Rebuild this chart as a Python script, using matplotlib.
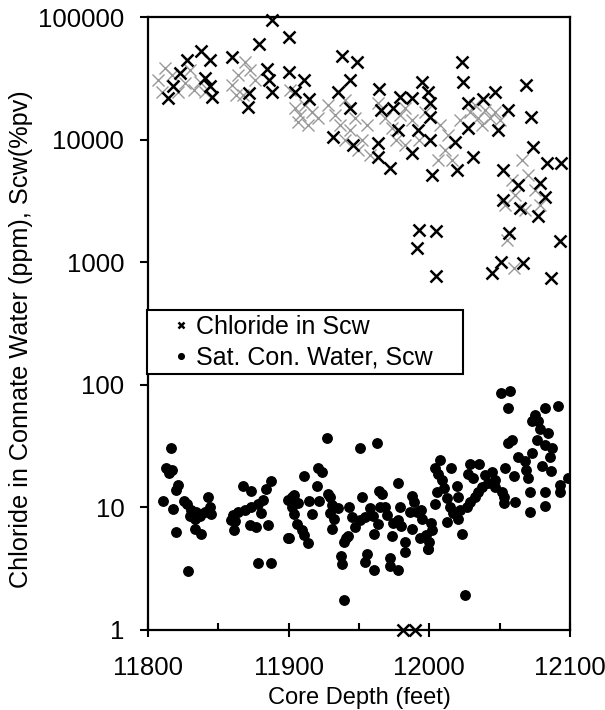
import matplotlib
matplotlib.use("Agg")
import matplotlib.pyplot as plt
from matplotlib.ticker import FixedLocator, FixedFormatter, NullLocator

plt.rcParams['font.family'] = ['Liberation Sans', 'DejaVu Sans']

# Chloride in Scw (solid markers)
chl_depth = [11888, 11900, 11879, 11860, 11838, 11828, 11844, 11823, 11818, 11814,
             11840.5, 11844, 11845.5, 11884.6, 11886, 11888, 11872, 11871, 11900,
             11938, 11948.5, 11911, 11943.6, 11904.5, 11914.4, 11935, 11964, 11994.7,
             11999, 11987.6, 11979, 12000.4, 11943.6, 11966, 11974, 11931.5, 11945.7,
             11963.5, 11963.5, 11972, 11977.7, 11992, 12000.4, 11987.6, 12000.4, 12001.8,
             11993, 12005, 11991, 12005, 12024, 12023, 12068.6, 12047, 12038, 12027.4,
             12056, 12072, 12027.4, 12048.7, 12018, 12031, 12019.6, 12052.3, 12073.6,
             12083.6, 12093.5, 12078.6, 12063, 12052.3, 12082, 12064.4, 12077, 12057,
             12092.8, 12051, 12044.5, 12066.5, 12086.4, 11981, 11990]
chl_ppm = [94500, 69000, 60300, 47200, 52800, 44600, 44600, 34900, 27400, 21800,
           31800, 27400, 22300, 37600, 30600, 24400, 24000, 18500, 35600,
           48100, 42900, 30600, 30600, 24400, 21400, 24400, 25900, 29500,
           24400, 21800, 22300, 19900, 18100, 17400, 18100, 10500, 9040,
           9380, 7210, 5870, 12000, 12000, 15300, 7780, 9930, 5140,
           1830, 1800, 1310, 772, 29500, 42900, 27900, 24400, 21400, 19900,
           17400, 15300, 12400, 12000, 9560, 7210, 5650, 5650, 8700,
           6440, 6440, 4430, 4260, 3220, 3400, 2770, 2380, 1730,
           1490, 1000, 816, 985, 743, 1.0, 1.0]

# Chloride in Scw (faint, poorly rendered markers in the dense clusters)
chl_faint_depth = [11807, 11812, 11817, 11821, 11826, 11830, 11833, 11837, 11810, 11840.5,
                   11860, 11864, 11867.5, 11872.5, 11876, 11869, 11862.5,
                   11901, 11904.5, 11908, 11911.5, 11916.5, 11921, 11914, 11906.6,
                   11928, 11933, 11936.5, 11940, 11947, 11943.6, 11949, 11952, 11955.6, 11940, 11958,
                   11963.5, 11968.4, 11973.4, 11979, 11982.6, 11987.6, 11976, 11982.6, 11993, 11997,
                   12007.5, 12013, 12011, 12016, 12006, 12021.7,
                   12029, 12034.5, 12039.5, 12043, 12046.6, 12050, 12037.4, 12032.4,
                   12066, 12070, 12061, 12075, 12053.7, 12068, 12078.6, 12058.7,
                   12055, 12060]
chl_faint_ppm = [30600, 38400, 33600, 24400, 29000, 37000, 25400, 29500, 24400, 24400,
                 27900, 33600, 23100, 37000, 30600, 42900, 23100,
                 25400, 18100, 15900, 19200, 16800, 15000, 13200, 13900,
                 19200, 15900, 13200, 21000, 15000, 12000, 8230, 9930, 13200, 9930, 7490,
                 19900, 15000, 12400, 15900, 18100, 14500, 9930, 9040, 9930, 16800,
                 13200, 10900, 8230, 6820, 6820, 14500,
                 16800, 15000, 17400, 15000, 16800, 14500, 13200, 19200,
                 6820, 5140, 3530, 3880, 2930, 2670, 2930, 4680,
                 1520, 897]

# Sat. Con. Water, Scw (%pv)
scw_depth = [11816.1, 11813, 11817, 11814.7, 11821.3, 11820.1, 11810.7, 11817.8, 11825.6, 11827.9,
             11830.8, 11829.6, 11834.3, 11836.7, 11840.3, 11842.6, 11843.8, 11844.6, 11833.2, 11820.1,
             11833.2, 11837.5, 11828.4, 11867.5, 11873.4, 11887.6, 11884.1, 11881.7, 11878.2, 11873.4,
             11868.7, 11864, 11860.4, 11859.2, 11862, 11880.5, 11885.3, 11877, 11872.3, 11861.1,
             11878.2, 11887.6, 11900.7, 11899.5,
             11927, 11950.7, 11963, 11921, 11923.9, 11911.1, 11919.9, 11902.1, 11904, 11899.7,
             11906.8, 11902.1, 11914.4, 11921.5, 11928.1, 11929.3, 11904, 11916.3, 11930.6, 11935.2,
             11929.3, 11932.4, 11905.7, 11909.2, 11911.1, 11913.5, 11900.2, 11931, 11942.9, 11944.8,
             11947.1, 11950.7, 11954.2, 11952.3, 11957.8, 11960.1, 11963.2, 11960.8, 11964.4, 11966.5,
             11964.9, 11969.6, 11968.4, 11977.5, 11979.1, 11974.3, 11977.9, 11979.8, 11973.6, 11982.6,
             11982.6, 11987.4, 11989.3, 11986.2, 11991, 11994, 11994.5, 11987.4, 11993.3, 11997.4,
             11998.8, 11940.5, 11942.4, 11939.5, 11937.2, 11938.1, 11955.4, 11954.2, 11960.8, 11972,
             11972, 11977.9, 11939.5,
             12050.9, 12057.3, 12055.6, 12091.2, 12082.6, 12075, 12073.1, 12077.4, 12078.6, 12084.1,
             12076.9, 12082.6, 12086.9, 12085.7, 12073.1, 12058.9, 12055.6, 12062.7, 12068, 12053.7,
             12060.3, 12068.4, 12070.3, 12080.2, 12086.4, 12098.7, 12092.8, 12092.8, 12082.6, 12071.5,
             12082.6, 12071.5, 12060.8, 12053.2, 12007.5, 12004, 12015.3, 12006.3, 12009.2, 12010.6,
             12005.2, 12019.4, 12020.5, 12028.8, 12035.2, 12027.2, 12031.2, 12039.5, 12044.3, 12041.9,
             12046.6, 12037.2, 12034.7, 12032.4, 12028.8, 12026.5, 12012.3, 12014.6, 12004, 12017,
             12021.7, 12012.3, 12020.5, 12001.1, 12002.1, 12023.4, 11999.7, 11999.2, 12051.4, 12053.2,
             12025.3, 12046.6]
scw_pv = [30.3, 20.8, 20.2, 19.1, 15.2, 13.9, 11.3, 9.7, 11.3, 10.6,
          9.5, 8.5, 9.2, 8.5, 9.1, 12.2, 10.0, 8.8, 8.1, 6.3,
          6.7, 6.1, 3.0, 14.9, 13.7, 16.5, 14.0, 11.5, 10.6, 10.1,
          9.5, 9.1, 8.7, 7.9, 7.8, 9.0, 7.2, 6.95, 7.2, 6.6,
          3.5, 3.5, 11.5, 5.6,
          36.6, 30.3, 33.3, 20.8, 19.5, 18.0, 14.9, 12.2, 12.6, 11.5,
          10.8, 10.0, 11.3, 11.3, 12.9, 12.1, 8.8, 8.8, 10.4, 9.8,
          9.0, 8.0, 7.3, 6.5, 5.96, 5.1, 5.6, 6.7, 10.0, 8.4,
          6.95, 7.9, 8.4, 12.2, 9.8, 8.5, 7.3, 6.1, 13.7, 12.9,
          10.1, 8.7, 10.0, 15.7, 10.1, 7.4, 7.9, 7.0, 5.8, 5.25,
          4.35, 12.4, 11.1, 9.2, 9.1, 9.5, 8.1, 6.7, 5.6, 5.96,
          4.6, 5.6, 5.8, 5.25, 4.0, 3.45, 4.2, 3.6, 3.1, 3.85,
          3.3, 3.1, 1.75,
          85.3, 89.5, 64.3, 67.2, 64.3, 56.7, 51.0, 51.0, 43.4, 40.2,
          35.5, 32.3, 30.3, 25.9, 27.6, 35.5, 33.3, 25.6, 24.0, 20.8,
          18.0, 20.2, 17.3, 21.8, 19.9, 17.3, 15.2, 13.4, 13.4, 13.4,
          10.3, 9.2, 11.1, 10.8, 24.3, 20.8, 20.8, 18.7, 16.7, 14.3,
          13.4, 14.9, 12.2, 22.6, 22.6, 18.7, 17.3, 18.4, 19.5, 15.7,
          14.7, 14.7, 13.4, 12.2, 11.1, 10.1, 11.9, 10.1, 10.6, 9.0,
          9.6, 7.6, 8.1, 7.5, 6.5, 6.1, 5.25, 4.6, 13.4, 12.2,
          1.93, 16.7]

x_major = [11800, 11900, 12000, 12100]
x_minor = [11850, 11950, 12050]
y_ticks = [1, 10, 100, 1000, 10000, 100000]
y_labels = ["1", "10", "100", "1000", "10000", "100000"]

fig = plt.figure(figsize=(6.05, 7.10), dpi=100)
ax = fig.add_axes([0.2446, 0.1127, 0.6975, 0.8633])

ax.plot(scw_depth, scw_pv, linestyle='none', marker='o', ms=6.8, color='black',
        label='Sat. Con. Water, Scw', zorder=3)
ax.plot(chl_faint_depth, chl_faint_ppm, linestyle='none', marker='x', ms=8, mew=1.0,
        color='#999999', zorder=2)
ax.plot(chl_depth, chl_ppm, linestyle='none', marker='x', ms=8, mew=1.8, color='black',
        label='Chloride in Scw', zorder=3, clip_on=False)

ax.set_yscale('log')
ax.set_xlim(11800, 12100)
ax.set_ylim(1, 100000)

ax.yaxis.set_major_locator(FixedLocator(y_ticks))
ax.yaxis.set_major_formatter(FixedFormatter(y_labels))
ax.yaxis.set_minor_locator(NullLocator())
ax.xaxis.set_major_locator(FixedLocator(x_major))
ax.xaxis.set_minor_locator(FixedLocator(x_minor))
ax.set_xticklabels([str(v) for v in x_major])

for s in ax.spines.values():
    s.set_linewidth(1.6)
    s.set_color('black')

ax.tick_params(axis='y', which='major', direction='out', length=6, width=1.5,
               labelsize=18.5, pad=11)
ax.tick_params(axis='x', which='major', direction='inout', length=10, width=1.5,
               labelsize=18.5, pad=14)
ax.tick_params(axis='x', which='minor', direction='in', length=5, width=1.5)

ax.set_xlabel('Core Depth (feet)', fontsize=17, labelpad=5)
ax.set_ylabel('Chloride in Connate Water (ppm), Scw(%pv)', fontsize=18.2)
ax.yaxis.set_label_coords(-0.272, 0.475)

handles, labels = ax.get_legend_handles_labels()
order = [1, 0]
leg = ax.legend([handles[i] for i in order], [labels[i] for i in order],
                loc='upper left', bbox_to_anchor=(-0.002, 0.413, 0.749, 0.109),
                mode='expand', borderaxespad=0,
                fancybox=False, framealpha=1, edgecolor='black', fontsize=18,
                markerscale=0.6, handlelength=2.3, handletextpad=-0.55,
                borderpad=0.2, labelspacing=0.25)
leg.get_frame().set_linewidth(1.5)
leg.set_zorder(5)

fig.savefig('out.png', dpi=100, facecolor='white')
